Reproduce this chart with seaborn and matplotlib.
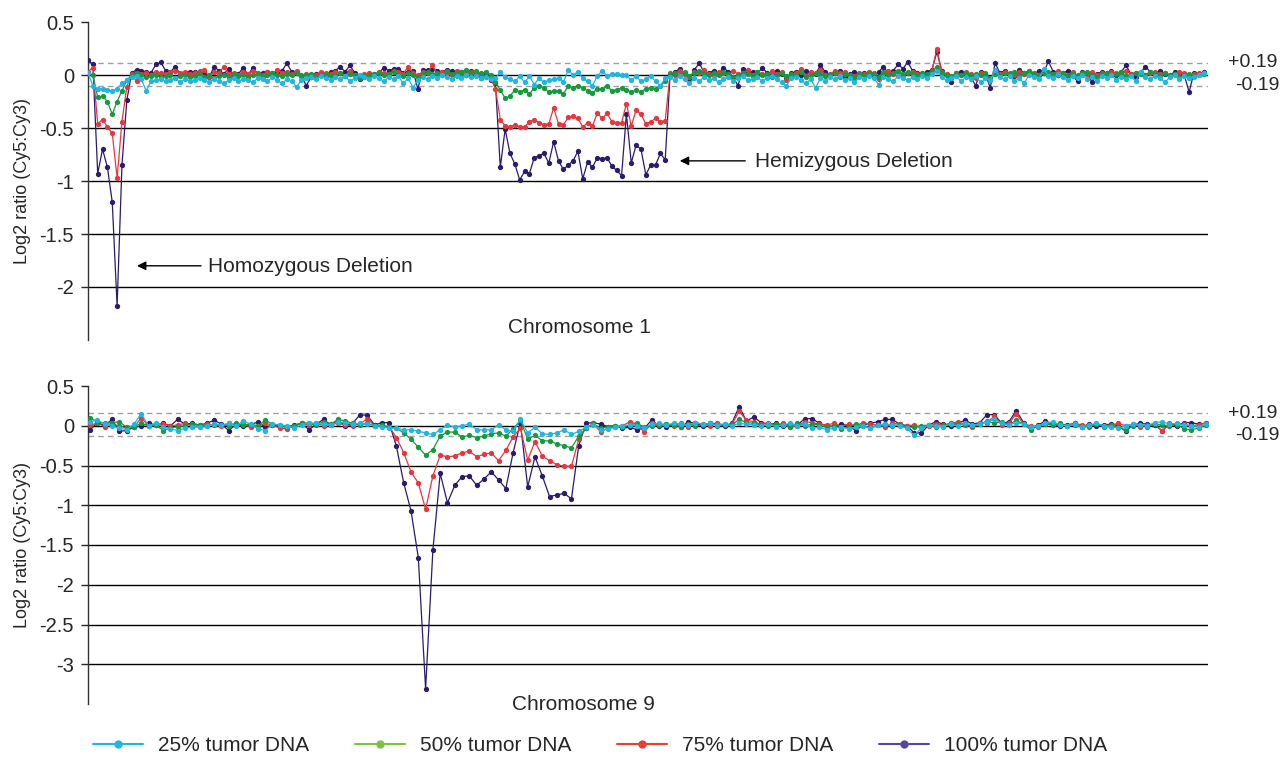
import numpy as np
import pandas as pd
import seaborn as sns
import matplotlib.pyplot as plt
from matplotlib.lines import Line2D

sns.set_style("white")
plt.rcParams['font.family'] = ['Liberation Sans', 'DejaVu Sans']
plt.rcParams['axes.unicode_minus'] = False

# log2 ratios, in hundredths (one value per probe)
series_names = ["25% tumor DNA", "50% tumor DNA", "75% tumor DNA", "100% tumor DNA"]

chr1_25 = [2, -10, -13, -13, -14, -15, -13, -8, -5, -2,
           -1, -4, -15, -6, -5, -4, -6, -5, -3, -7,
           -4, -6, -5, -3, -5, -7, -4, -6, -8, -5,
           -3, -6, -4, -5, -7, -3, -4, -6, -2, -5,
           -8, -4, -6, -11, -5, -3, -2, -4, -1, -3,
           -5, -2, -4, -1, -6, -3, 0, -2, -4, -1,
           -3, -6, -2, -4, -1, -8, -3, -12, -5, -2,
           -4, -1, -3, 0, -2, -4, -1, -3, 0, -2,
           -1, -3, -2, -4,
           -3, 3, -2, -4, -6, -1, -7, -1, -9, -3, -7, -5, -4, -3, -7, 5, 0, 3,
           -3, -6, -10, -1, 4, -1, 1, 1, 0, 0, -5, -1, -6, -4, -1, -6, -10, -3,
           -2, -5, -1, -4, -8, -3, -6, -2, -5, -3,
           -7, -4, -2, -6, -3, -1, -5, -4, -2, -6,
           -3, -1, -4, -7, -10, -3, -2, -5, -8, -4,
           -12, -3, -6, -2, -4, -1, -5, -3, -7, -2,
           -4, -1, -3, -9, -2, -4, -6, -1, -3, -5,
           -2, -4, -1, -3, 1, 4, -2, -5, -3, -1,
           -6, -2, -4, -1, -7, -3, -5, 5, -2, -4,
           -1, -6, -3, -8, 0, -2, -4, 6, -1, -3,
           1, -2, -5, -1, -3, 0, -4, -2, -6, -1,
           -3, 0, -5, -2, -4, -1, -6, 3, -2, -4,
           -1, -3, -7, -2, 0, -4, -1, -3, -2, 0,
           2]
chr1_50 = [2, 0, -21, -20, -25, -37, -25, -15, -5, 0,
           2, 0, -2, -1, 0, -2, -1, 0, -3, -1,
           0, -2, -1, 1, -2, 0, -3, -1, 0, -2,
           1, -1, 0, -2, 0, 1, -1, 0, 2, 0,
           -1, 1, 0, 2, -1, 0, 1, -2, 0, 1,
           -1, 0, 2, -1, 1, 0, -3, -1, 0, 1,
           2, 0, 1, 3, 0, -1, 2, 0, -2, 1,
           3, 1, 2, 0, 4, 1, 2, 3, 5, 2,
           4, 1, 3, 0,
           -7, -14, -22, -20, -14, -16, -14, -18, -12, -10, -12, -16, -15, -15, -18, -10, -12, -10,
           -12, -15, -17, -13, -13, -10, -15, -14, -12, -14, -16, -14, -16, -13, -12, -13, -10, -6,
           1, 2, 0, 3, -1, 2, 4, 1, 0, 2,
           0, 3, 1, -2, 0, 2, 1, -1, 3, 0,
           1, -2, 0, 2, -1, 1, 0, 3, -2, 0,
           2, 1, -1, 0, 2, -2, 1, 0, -3, 1,
           0, 2, 1, -2, 3, 0, 2, 4, 1, 3,
           1, 0, 2, 1, 3, 8, 2, 0, -1, 1,
           0, 2, -1, 1, 0, 2, -3, 1, 0, 2,
           1, 3, 0, 2, 4, 1, 0, 2, 3, 1,
           0, 2, -1, 1, 0, 2, 3, 0, -2, 1,
           2, 0, 1, 3, -1, 0, 2, 1, 0, 3,
           1, -1, 2, 0, 1, -2, 0, 1, -1, 0,
           1]
chr1_75 = [3, 7, -46, -42, -49, -55, -97, -44, -11, 1,
           -6, 1, 2, 0, 3, 2, 1, 3, 4, 2,
           3, 1, 2, 4, 5, -2, 3, 2, 8, 1,
           2, 0, 3, 1, 4, 2, 0, 3, 1, 5,
           2, 3, 1, 4, 0, 1, -2, 0, 3, 2,
           1, 3, 2, -1, 4, 0, -3, 1, 2, 0,
           3, 2, 1, 4, 3, 1, 8, 2, 0, 3,
           2, 9, 1, 3, 2, 0, 4, 1, 2, 3,
           0, 2, -2, -3,
           -13, -42, -48, -49, -47, -49, -49, -44, -42, -45, -47, -46, -31, -46, -47, -40, -39, -41,
           -49, -45, -48, -36, -41, -36, -44, -45, -45, -27, -48, -33, -37, -46, -44, -41, -44, -43,
           2, 0, 4, 1, -2, 3, 2, 5, 1, 0,
           3, 2, -1, 4, 1, 2, 5, 0, 3, 1,
           -2, 4, 1, 3, -5, 0, 2, 6, -1, 3,
           2, 5, 0, 1, 4, 2, 3, 0, -1, 2,
           1, 3, 2, -4, 2, 4, 1, 3, 0, 2,
           3, 1, 2, 0, 4, 25, 3, 1, -2, 2,
           0, 3, 1, -3, 2, 0, -5, 4, 1, 3,
           2, 0, 3, 1, 4, 2, 0, 3, 2, 1,
           4, 2, 0, 3, -1, 2, 1, 3, 0, 2,
           1, 3, 2, 0, 4, 1, 2, 3, 0, 2,
           3, 1, 2, 0, 1, 3, 2, -3, 1, 2,
           2]
chr1_100 = [14, 10, -93, -70, -87, -120, -218, -85, -24, 2,
            5, 4, 3, 2, 10, 12, 4, 3, 8, 1,
            2, 3, 3, 2, 3, -2, 8, 4, 1, 6,
            0, 1, 7, 0, 7, 1, 2, 3, 2, 3,
            4, 11, 3, 3, -1, -10, -2, 1, 2, 0,
            3, 4, 8, 3, 9, 2, -4, -2, 0, 1,
            2, 7, 4, 6, 6, 2, 3, 4, -13, 5,
            5, 6, 4, 3, 5, 4, 2, 3, 0, 4,
            1, -3, 2, -5,
            -8, -87, -51, -74, -84, -99, -91, -93, -78, -76, -74, -83, -63, -81, -89, -85, -81, -72,
            -98, -82, -87, -78, -79, -78, -86, -90, -95, -37, -83, -66, -70, -94, -85, -85, -74, -80,
            0, 3, 6, 2, -4, 5, 11, 3, 2, 4,
            1, 7, 3, -2, -10, 6, 2, 3, 1, 7,
            2, 0, 4, 1, -3, 2, 3, 0, 4, 2,
            1, 9, 3, 0, 2, 4, -2, 1, 3, 0,
            2, 1, 0, 3, 8, 1, 4, 10, 6, 12,
            4, 2, 1, 3, 5, 22, 4, 0, -7, 2,
            3, 1, -2, -10, 3, 1, -12, 11, 2, 4,
            0, -1, 5, 2, 3, 1, 4, 2, 13, 3,
            0, 2, 4, -1, -6, 3, 2, -7, 1, 3,
            2, 4, 0, 3, 9, 1, -2, 2, 8, 3,
            2, 4, 1, -1, 3, 2, 0, -16, 2, 1,
            3]

chr9_25 = [5, 7, 2, 0, -3, -5, 2, 15, 0, 3,
           -1, -4, -6, -3, -2, -1, 0, 2, 1, 3,
           0, 6, 2, -4, -6, 2, 1, 0, -3, 1,
           4, 3, 2, 1, 5, 4, 2, 3, 2, 0,
           -1, -3, -3, -5, -5, -7, -9, -11, -5, 1,
           -2, 0, 2, -5, -5, -5, 1, -5, -7, 8,
           -9, -2, -10, -11, -9, -5, -11, -7, -2, 1,
           -5, -4, -2, 0, 1, 0, -3, 2, 3, 1,
           3, 2, 1, 4, 2, 3, 1, 2, 0, 3,
           2, 1, 0, 2, -1, 1, 3, 0, 2, -3,
           -2, -5, -3, -1, -4, -2, 0, -3, 1, 2,
           1, 0, -3, -12, -3, 1, 0, -1, 2, 0,
           3, 1, 2, 5, 8, 3, 1, 4, 2, -2,
           0, 3, 5, 1, 0, 2, -2, 1, 3, 0,
           -1, -3, 0, 2, 1, 0, 4, 5, 2, 3,
           1, 0, -1, 2]
chr9_50 = [10, 5, 3, 4, 5, -2, -1, 3, 0, 1,
           -6, -3, -1, 0, 2, 1, 0, 2, 1, 0,
           3, 1, 2, 0, 7, 2, 1, -2, 0, 4,
           3, 1, 5, 2, 8, 6, 3, 1, 3, 0,
           1, -2, -3, -9, -17, -27, -37, -30, -13, -8,
           -8, -14, -12, -15, -13, -10, -9, -13, -4, 7,
           -17, -12, -19, -19, -23, -25, -28, -13, -3, 2,
           -3, -1, 0, -2, 1, 3, -2, 0, 1, 2,
           1, -1, 2, 0, 1, 3, 0, 2, 1, 8,
           4, 3, 1, 0, 2, 1, -1, 3, 0, 2,
           1, -2, 0, -4, -1, 2, 0, -3, 1, 2,
           0, 1, -1, -2, 0, 1, -2, 0, 3, 2,
           1, 0, 2, 6, 3, 5, 1, 7, 2, -5,
           0, 2, 1, 3, 0, 1, -1, 0, 2, -1,
           0, -2, -5, 0, 1, -1, 2, 1, 0, 2,
           -4, -5, -3, 1]
chr9_75 = [1, 3, -1, 2, 0, -3, -2, 10, 0, 1,
           2, 0, 1, 3, 0, -1, 2, 1, 0, 3,
           1, 2, -2, 0, 3, 1, -3, -4, 0, 2,
           1, 3, 0, 2, 3, 1, 0, 2, 9, 0,
           0, -1, -15, -34, -58, -72, -105, -63, -37, -39,
           -38, -34, -32, -39, -36, -34, -44, -31, -14, -3,
           -43, -20, -38, -44, -49, -51, -51, -17, -3, 3,
           -8, -3, -1, 0, 5, 2, -8, 3, 1, 2,
           0, 3, -1, 4, 2, 0, 3, 1, 2, 18,
           7, 5, 2, 4, 1, 3, -2, 0, 5, 4,
           2, 1, 3, -1, 2, 0, 4, 2, 1, -1,
           3, 2, 0, 1, -3, 0, 2, 1, 3, 5,
           2, -2, 3, 4, 12, 1, 3, 15, 2, 0,
           -2, 4, 1, 2, 0, 3, 1, -1, 2, 0,
           1, 3, 0, 2, -1, 1, 2, -7, 3, 1,
           2, 0, 1, 4]
chr9_100 = [-5, 4, 0, 8, -7, -6, -2, 0, 3, 1,
            3, 0, 8, 2, 3, 1, 3, 7, 2, -6,
            2, 0, 1, 5, -2, 1, 0, -2, 1, 3,
            -5, 2, 8, 1, 7, 0, 3, 14, 13, 1,
            4, 4, -26, -72, -107, -166, -331, -156, -60, -97,
            -75, -64, -63, -75, -67, -58, -68, -79, -34, 4,
            -77, -39, -63, -89, -87, -85, -92, -25, 3, 4,
            2, -1, 0, -3, -2, -5, -3, 7, 0, -1,
            2, -2, 5, 3, 0, 4, 2, 0, 3, 24,
            6, 11, 4, 2, 3, 0, 2, 1, 9, 9,
            3, 0, -1, 2, 0, -6, 1, 3, 5, 8,
            8, 2, 0, -9, -9, 1, 5, 2, 0, 3,
            7, 2, 4, 14, 14, 3, 5, 19, 4, -3,
            1, 6, 2, 0, 1, 3, -1, 2, 0, 1,
            2, 0, -7, 1, 3, 2, 1, -6, 2, 0,
            4, 4, 2, 3]

top_ticks = [0.5, 0, -0.5, -1, -1.5, -2]
top_tick_labels = ["0.5", "0", "-0.5", "-1", "-1.5", "-2"]
bot_ticks = [0.5, 0, -0.5, -1, -1.5, -2, -2.5, -3]
bot_tick_labels = ["0.5", "0", "-0.5", "-1", "-1.5", "-2", "-2.5", "-3"]
threshold_labels = ["+0.19", "-0.19"]
top_thresholds = [0.115, -0.10]
bot_thresholds = [0.155, -0.125]

line_colors = {"25% tumor DNA": "#1fb6e0", "50% tumor DNA": "#16993f",
               "75% tumor DNA": "#e8363e", "100% tumor DNA": "#2c1a6c"}
legend_colors = ["#1fb6e0", "#7dc242", "#e8402e", "#56479c"]

FS = 15


def long_frame(cols):
    frames = []
    for name, vals in zip(series_names, cols):
        v = np.array(vals) / 100.0
        frames.append(pd.DataFrame({"probe": np.arange(len(v)), "ratio": v, "series": name}))
    return pd.concat(frames, ignore_index=True)


df1 = long_frame([chr1_25, chr1_50, chr1_75, chr1_100])
df9 = long_frame([chr9_25, chr9_50, chr9_75, chr9_100])

fig = plt.figure(figsize=(12.8, 7.58), dpi=100)
ax1 = fig.add_axes([88 / 1280, 1 - 340 / 758, 1120 / 1280, 318 / 758])
ax2 = fig.add_axes([88 / 1280, 1 - 704 / 758, 1120 / 1280, 318 / 758])

draw_order = series_names[::-1]  # cyan ends up on top


def draw_panel(ax, df, ticks, labels, thresholds, xlim, ylim):
    for t in ticks:
        if t <= 0:
            ax.axhline(t, color="black", lw=1.0, zorder=1)
    for t in thresholds:
        ax.axhline(t, color="#a0a0a0", lw=1.0, ls=(0, (4, 3)), zorder=1)
    sns.lineplot(data=df, x="probe", y="ratio", hue="series", hue_order=draw_order,
                 palette=line_colors, marker="o", markersize=3.8, markeredgewidth=0,
                 linewidth=0.9, estimator=None, sort=False, legend=False, ax=ax, zorder=3)
    ax.set_xlim(*xlim)
    ax.set_ylim(*ylim)
    ax.set_yticks(ticks)
    ax.set_yticklabels(labels)
    ax.set_xticks([])
    ax.set_xlabel("")
    ax.set_ylabel("Log2 ratio (Cy5:Cy3)", fontsize=13)
    ax.yaxis.set_label_coords(-0.051, 0.5)
    ax.tick_params(axis="y", length=5, width=1, direction="out", pad=5, labelsize=14.5, left=True)
    for s in ["top", "right", "bottom"]:
        ax.spines[s].set_visible(False)
    ax.spines["left"].set_color("#333333")
    ax.spines["left"].set_linewidth(1)
    tr = ax.get_yaxis_transform()
    ax.text(1.018, thresholds[0], threshold_labels[0], transform=tr, fontsize=14,
            va="center", ha="left")
    ax.text(1.024, thresholds[1], threshold_labels[1], transform=tr, fontsize=14,
            va="center", ha="left")


draw_panel(ax1, df1, top_ticks, top_tick_labels, top_thresholds, (0, 230.9), (-2.5, 0.5))
draw_panel(ax2, df9, bot_ticks, bot_tick_labels, bot_thresholds, (-0.3, 153.3), (-3.5, 0.5))

arrow = dict(arrowstyle="-|>", color="black", lw=1.0, mutation_scale=13, shrinkA=0, shrinkB=0)
ax1.annotate("", xy=(10.1, -1.80), xytext=(23.3, -1.80), arrowprops=arrow)
ax1.text(24.7, -1.81, "Homozygous Deletion", fontsize=FS, va="center", ha="left")
ax1.annotate("", xy=(122.0, -0.81), xytext=(135.5, -0.81), arrowprops=arrow)
ax1.text(137.5, -0.82, "Hemizygous Deletion", fontsize=FS, va="center", ha="left")
ax1.text(101.4, -2.38, "Chromosome 1", fontsize=FS, va="center", ha="center")
ax2.text(67.6, -3.51, "Chromosome 9", fontsize=FS, va="center", ha="center", clip_on=False)

handles = [Line2D([0], [0], color=c, lw=1.5, marker="o", markersize=6, markeredgewidth=0)
           for c in legend_colors]
fig.legend(handles, series_names, loc="center left", bbox_to_anchor=(93 / 1280, 0.016), ncol=4,
           frameon=False, fontsize=FS, handlelength=2.4, handletextpad=0.72,
           columnspacing=2.2, borderpad=0, borderaxespad=0)

fig.savefig("out.png", dpi=100)
